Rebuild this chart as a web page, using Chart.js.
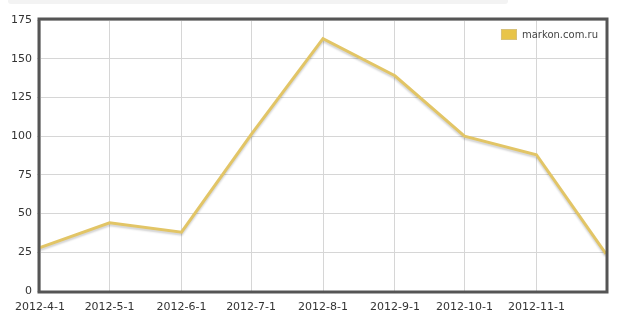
<!DOCTYPE html>
<html>
<head>
<meta charset="utf-8">
<script src="https://cdn.jsdelivr.net/npm/chart.js@4/dist/chart.umd.min.js"></script>
<style>
  body { margin: 0; background: #fff; }
  #wrap { position: relative; width: 619px; height: 325px; }
  #topbar { position: absolute; left: 8px; top: 0; width: 500px; height: 4px; background: #f3f3f3; border-radius: 0 0 3px 3px; }
</style>
</head>
<body>
<div id="wrap">
  <div id="topbar"></div>
  <canvas id="chart" width="619" height="325"></canvas>
</div>
<script>
// data
const dates = ['2012-4-1', '2012-5-1', '2012-6-1', '2012-7-1', '2012-8-1', '2012-9-1', '2012-10-1', '2012-11-1', '2012-12-1'];
const values = [28, 44, 38, 101, 163, 139, 100, 88, 24];
const yTicks = [0, 25, 50, 75, 100, 125, 150, 175];
const seriesName = 'markon.com.ru';

// days since first date, so the x axis spacing follows the calendar
const toDate = s => { const p = s.split('-').map(Number); return Date.UTC(p[0], p[1] - 1, p[2]); };
const start = toDate(dates[0]);
const dayOf = s => Math.round((toDate(s) - start) / 86400000);
const points = dates.map((d, i) => ({ x: dayOf(d), y: values[i] }));
const lastDay = dayOf(dates[dates.length - 1]);

const fontFamily = "'DejaVu Sans', Verdana, sans-serif";
const font = { family: fontFamily, size: 11 };

// thick frame around plot area, soft shadow under the line, legend in the top-right corner
const framePlugin = {
  id: 'frame',
  beforeDatasetDraw(chart) {
    const ctx = chart.ctx;
    ctx.save();
    ctx.shadowColor = 'rgba(0,0,0,0.18)';
    ctx.shadowOffsetY = 2;
    ctx.shadowOffsetX = 0;
    ctx.shadowBlur = 2;
  },
  afterDatasetDraw(chart) {
    chart.ctx.restore();
  },
  afterDraw(chart) {
    const { ctx, chartArea: a } = chart;
    ctx.save();
    ctx.strokeStyle = '#555';
    ctx.lineWidth = 3;
    ctx.strokeRect(a.left - 1, a.top - 1, a.right - a.left + 2, a.bottom - a.top + 2);

    // legend
    const ds = chart.data.datasets[0];
    ctx.font = '10px ' + fontFamily;
    const tw = ctx.measureText(ds.label).width;
    const tx = a.right - 8 - tw;
    const bx = tx - 21;
    const by = a.top + 9;
    ctx.fillStyle = ds.backgroundColor;
    ctx.fillRect(bx, by, 16, 11);
    ctx.strokeStyle = '#d8c27a';
    ctx.lineWidth = 1;
    ctx.strokeRect(bx + 0.5, by + 0.5, 15, 10);
    ctx.fillStyle = '#444';
    ctx.textBaseline = 'middle';
    ctx.fillText(ds.label, tx, by + 6);
    ctx.restore();
  }
};

new Chart(document.getElementById('chart'), {
  type: 'line',
  data: {
    datasets: [{
      label: seriesName,
      data: points,
      borderColor: '#e2c566',
      backgroundColor: '#e8c448',
      borderWidth: 3,
      pointRadius: 0,
      tension: 0
    }]
  },
  options: {
    responsive: false,
    animation: false,
    layout: { padding: { top: 20, right: 13, left: 0, bottom: 0 } },
    plugins: {
      tooltip: { enabled: false },
      legend: { display: false }
    },
    scales: {
      x: {
        type: 'linear',
        min: 0,
        max: lastDay,
        afterBuildTicks(scale) {
          scale.ticks = dates.map(d => ({ value: dayOf(d) }));
        },
        afterFit(scale) { scale.height = 34; },
        ticks: {
          font: font,
          color: '#333',
          maxRotation: 0,
          autoSkip: false,
          padding: 10,
          callback(v) {
            const i = dates.findIndex(d => dayOf(d) === v);
            return i === dates.length - 1 ? '' : dates[i];
          }
        },
        grid: { color: '#d6d6d6', drawTicks: false },
        border: { display: false }
      },
      y: {
        min: 0,
        max: 175,
        afterBuildTicks(scale) {
          scale.ticks = yTicks.map(v => ({ value: v }));
        },
        afterFit(scale) { scale.width = 40; },
        ticks: { font: font, color: '#333', padding: 5 },
        grid: { color: '#d6d6d6', drawTicks: true, tickLength: 3 },
        border: { display: false }
      }
    }
  },
  plugins: [framePlugin]
});
</script>
</body>
</html>
